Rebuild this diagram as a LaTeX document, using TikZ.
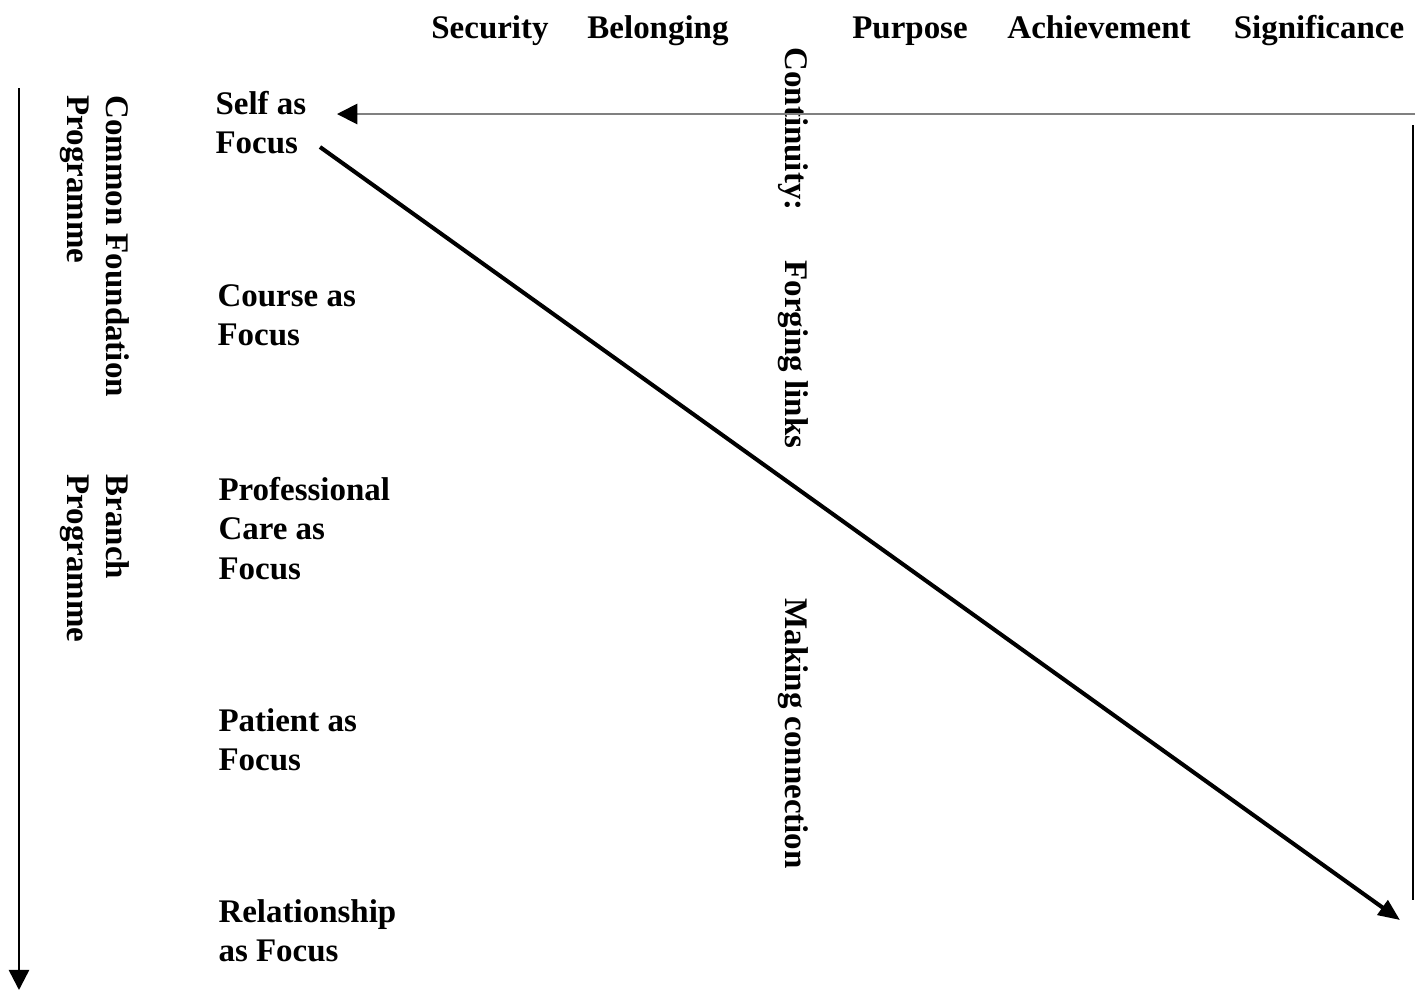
\documentclass[tikz,border=0pt]{standalone}
\usepackage{fontspec}
\setmainfont{Liberation Serif}
\usetikzlibrary{arrows.meta}
\tikzset{
	lbl/.style = {font=\fontsize{12.2}{14.5}\selectfont\bfseries, inner sep=0pt, align=left},
	focus/.style = {lbl, anchor=north west},
	side/.style = {lbl, anchor=north west, rotate=-90},
	head/.style = {lbl, anchor=base}
}

\begin{document}
\begin{tikzpicture}[x=0.37pt, y=-0.37pt]
					\useasboundingbox (0,0) rectangle (1422,991);
					% ====== Corners ========
					\coordinate (TR) at (1415,114);
					\coordinate (SelfTip) at (337,114);
					\coordinate (RT) at (1413,125);
					\coordinate (RB) at (1413,900);
					\coordinate (DiagA) at (320,147);
					\coordinate (DiagB) at (1400,920);
					\coordinate (LT) at (19,88);
					\coordinate (LB) at (19,990);
					% ====== Headings ========
					\node[head] (sec) at (490,38) {Security};
					\node[head] (bel) at (658,38) {Belonging};
					\node[head] (pur) at (910,38) {Purpose};
					\node[head] (ach) at (1099,38) {Achievement};
					\node[head] (sig) at (1319,38) {Significance};
					% ====== Stages ========
					\node[focus] (self) at (215,91) {Self as\\Focus};
					\node[focus] (course) at (217,284) {Course as\\Focus};
					\node[focus] (prof) at (218,477) {Professional\\Care as\\Focus};
					\node[focus] (patient) at (218,708) {Patient as\\Focus};
					\node[focus] (rel) at (218,899) {Relationship\\as Focus};
					% ====== Programmes ========
					\node[side] (cfp) at (130,95) {Common Foundation\\Programme};
					\node[side] (bp) at (130,474) {Branch\\Programme};
					\node[side] (cont) at (809,47) {Continuity:};
					\node[side] (forg) at (809,260) {Forging links};
					\node[side] (mak) at (809,598) {Making connection};
					% ====== Arrows ========
					\draw[gray, line width=0.7pt, -{Triangle[length=7.5pt, width=7.5pt, color=black]}] (TR) -- (SelfTip);
					\draw[line width=0.7pt] (RT) -- (RB);
					\draw[line width=1.5pt, -{Triangle[length=8pt, width=6.5pt]}] (DiagA) -- (DiagB);
					\draw[line width=0.9pt, -{Triangle[length=7.5pt, width=7.5pt]}] (LT) -- (LB);
				\end{tikzpicture}
\end{document}
